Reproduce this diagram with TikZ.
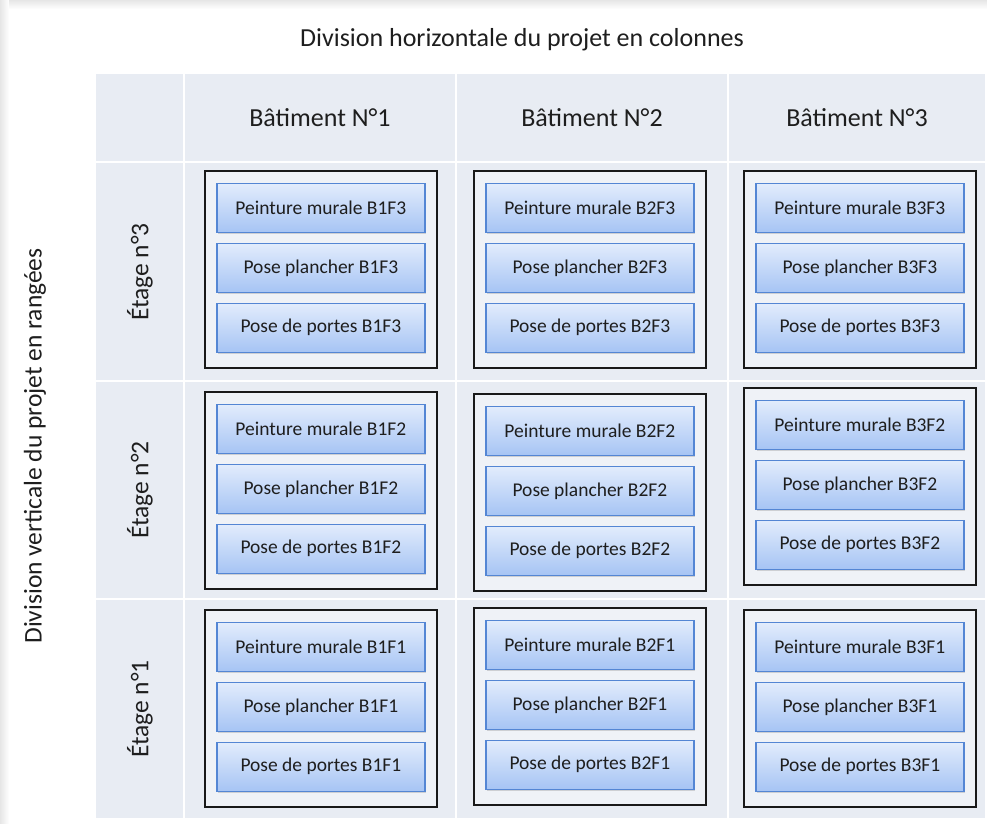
\documentclass[tikz,border=0pt]{standalone}
\usepackage{fontspec}
\setmainfont{Carlito}
\usetikzlibrary{positioning,shadows}

\definecolor{cellgray}{HTML}{E8ECF3}
\definecolor{boxline}{HTML}{5486D4}
\definecolor{boxtop}{HTML}{E2ECFC}
\definecolor{boxbottom}{HTML}{A6C4F4}
\definecolor{textdark}{HTML}{1E1E1E}
\definecolor{edgegray}{HTML}{E6E6E6}

\begin{document}
\begin{tikzpicture}[x = 1pt, y = -1pt,
		cell/.style = {fill = cellgray, draw = none},
		frame/.style = {draw = black!90, line width = 1.8pt, fill = cellgray!70, minimum width = 232pt, minimum height = 197pt, inner sep = 0pt, anchor = north west},
		task/.style = {draw = boxline, line width = 1.3pt, top color = boxtop, bottom color = boxbottom, minimum width = 208pt, minimum height = 49pt, inner sep = 0pt, font = \fontsize{19.5}{22}\selectfont, text = textdark, drop shadow = {shadow xshift = 1pt, shadow yshift = -1.5pt, opacity = 0.3}},
		head/.style = {font = \fontsize{26}{30}\selectfont, text = textdark},
		side/.style = {font = \fontsize{25.5}{30}\selectfont, text = textdark, rotate = 90},
	]
		\useasboundingbox (0, 0) rectangle (987, 823);
		
		% page edge of the screenshot
		\shade[left color = edgegray, right color = white] (0, 0) rectangle (9, 823);
		\shade[top color = edgegray, bottom color = white] (9, 0) rectangle (987, 9);
		
		% table cells
		\foreach \xa/\xb in {96/183, 185/455, 457/727, 729/985}
		\foreach \ya/\yb in {74/161, 163/380, 382/598, 600/818}
		\fill[cell] (\xa, \ya) rectangle (\xb, \yb);
		
		\node[head] (title) at (522, 40) {Division horizontale du projet en colonnes};
		\node[side] (rows) at (35, 446) {Division verticale du projet en rangées};
		
		\node[head] (bat1) at (320, 118) {Bâtiment N°1};
		\node[head] (bat2) at (592, 118) {Bâtiment N°2};
		\node[head] (bat3) at (857, 118) {Bâtiment N°3};
		
		\node[side] (etage3) at (140, 272) {Étage n°3};
		\node[side] (etage2) at (140, 490) {Étage n°2};
		\node[side] (etage1) at (140, 709) {Étage n°1};
		
		% one frame of three tasks per building and floor
		\foreach \b/\f/\fx/\fy in {1/3/204/170, 2/3/473/170, 3/3/743/170,
			1/2/204/391, 2/2/473/393, 3/2/743/387,
			1/1/204/609, 2/1/473/607, 3/1/743/609}
		{
			\node[frame] (frame\b\f) at (\fx, \fy) {};
			\node[task, below = 13pt of frame\b\f.north] (murale\b\f) {Peinture murale B\b F\f};
			\node[task, below = 9.5pt of murale\b\f] (plancher\b\f) {Pose plancher B\b F\f};
			\node[task, below = 9.5pt of plancher\b\f] (portes\b\f) {Pose de portes B\b F\f};
		}
	\end{tikzpicture}
\end{document}
